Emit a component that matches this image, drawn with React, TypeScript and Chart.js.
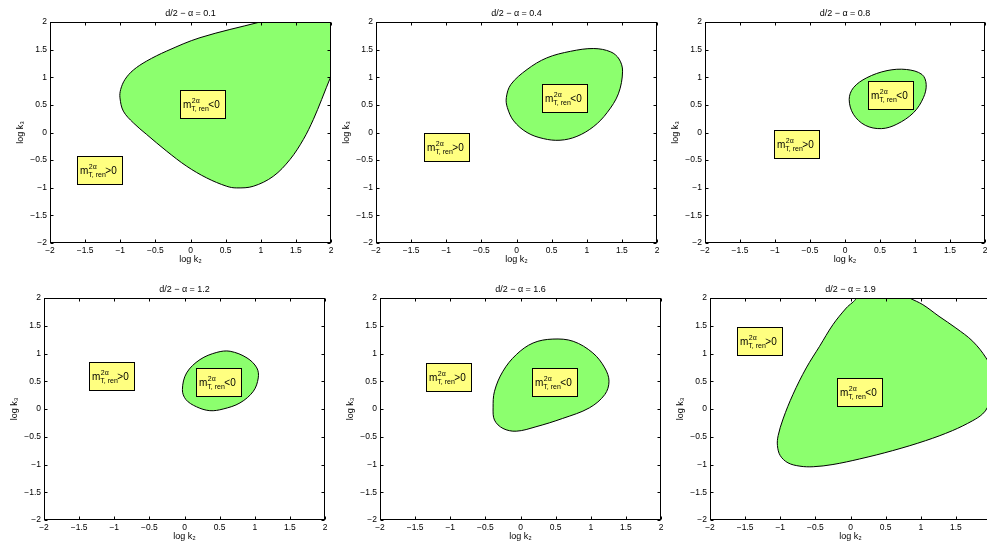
import React, { useEffect, useRef } from "react";
import { Chart, registerables } from "chart.js";

Chart.register(...registerables);

// ---------- data ----------
const panelTitles = [
  "d/2 − α = 0.1",
  "d/2 − α = 0.4",
  "d/2 − α = 0.8",
  "d/2 − α = 1.2",
  "d/2 − α = 1.6",
  "d/2 − α = 1.9",
];

const axisTicks = [-2, -1.5, -1, -0.5, 0, 0.5, 1, 1.5, 2];
const xAxisLabel = "log k₂";
const yAxisLabel = "log k₃";

// boundary of the region m < 0 for each panel (log k2, log k3), closed loops
const curve1X = [1.3, 0.99, 0.135, -0.339, -0.624, -0.814, -0.932, -0.994, -1.004, -0.956, -0.814, -0.624, -0.339, -0.055, 0.23, 0.515, 0.657, 0.894, 1.179, 1.416, 1.606, 1.749, 1.867, 2.0, 2.05, 2.4, 2.4, 1.3];
const curve1Y = [2.1, 2.0, 1.716, 1.474, 1.293, 1.13, 0.961, 0.779, 0.628, 0.387, 0.175, -0.036, -0.338, -0.61, -0.822, -0.973, -1.003, -0.973, -0.792, -0.489, -0.127, 0.236, 0.598, 1.021, 1.15, 1.2, 2.4, 2.4];

const curve2X = [-0.145, -0.08, 0.15, 0.43, 0.77, 1.1, 1.34, 1.46, 1.51, 1.45, 1.29, 1.1, 0.86, 0.62, 0.38, 0.15, -0.04, -0.13];
const curve2Y = [0.63, 0.87, 1.14, 1.35, 1.47, 1.52, 1.46, 1.33, 1.11, 0.7, 0.36, 0.11, -0.07, -0.14, -0.11, 0.0, 0.21, 0.45];

const curve3X = [0.06, 0.12, 0.31, 0.6, 0.88, 1.1, 1.16, 1.12, 0.98, 0.74, 0.52, 0.29, 0.12];
const curve3Y = [0.6, 0.81, 0.99, 1.12, 1.14, 1.05, 0.87, 0.63, 0.36, 0.15, 0.07, 0.13, 0.33];

const curve4X = [-0.03, 0.03, 0.22, 0.46, 0.65, 0.89, 1.03, 1.05, 0.98, 0.79, 0.55, 0.36, 0.17, 0.02];
const curve4Y = [0.35, 0.65, 0.89, 1.02, 1.04, 0.92, 0.74, 0.56, 0.32, 0.11, 0.0, -0.03, 0.04, 0.17];

const curve5X = [-0.39, -0.37, -0.25, -0.06, 0.18, 0.46, 0.75, 1.03, 1.2, 1.26, 1.2, 0.98, 0.6, 0.22, -0.06, -0.25, -0.37];
const curve5Y = [0.02, 0.32, 0.68, 0.98, 1.19, 1.26, 1.22, 1.01, 0.74, 0.5, 0.26, 0.02, -0.17, -0.32, -0.4, -0.35, -0.2];

const curve6X = [0.0, 0.08, -0.06, -0.25, -0.44, -0.63, -0.82, -0.96, -1.03, -1.04, -1.0, -0.89, -0.72, -0.53, -0.25, 0.13, 0.6, 1.07, 1.45, 1.74, 1.88, 1.95, 2.02, 2.03, 1.93, 1.74, 1.5, 1.26, 1.03, 0.84, 0.7, 0.4];
const curve6Y = [2.1, 2.0, 1.82, 1.52, 1.13, 0.74, 0.26, -0.18, -0.48, -0.66, -0.84, -0.97, -1.03, -1.04, -1.0, -0.9, -0.75, -0.57, -0.39, -0.21, -0.09, 0.03, 0.3, 0.65, 0.92, 1.22, 1.46, 1.67, 1.88, 2.0, 2.1, 2.2];

// ---------- styles / layout ----------
const GREEN = "rgb(140,255,110)";
const YELLOW = "rgb(255,255,128)";
const FONT = '"Liberation Sans", Arial, Helvetica, sans-serif';

type Box = { x: number; y: number; sign: string };
type Panel = {
  title: string;
  xs: number[];
  ys: number[];
  rect: { l: number; t: number; w: number; h: number };
  boxes: Box[];
};

const panels: Panel[] = [
  { title: panelTitles[0], xs: curve1X, ys: curve1Y, rect: { l: 50, t: 22, w: 281, h: 221 },
    boxes: [{ x: -0.15, y: 0.77, sign: "<0" }, { x: -1.62, y: -0.43, sign: ">0" }] },
  { title: panelTitles[1], xs: curve2X, ys: curve2Y, rect: { l: 376, t: 22, w: 281, h: 221 },
    boxes: [{ x: 0.37, y: 0.87, sign: "<0" }, { x: -1.31, y: 0.0, sign: ">0" }] },
  { title: panelTitles[2], xs: curve3X, ys: curve3Y, rect: { l: 705, t: 22, w: 280, h: 221 },
    boxes: [{ x: 0.33, y: 0.94, sign: "<0" }, { x: -1.01, y: 0.05, sign: ">0" }] },
  { title: panelTitles[3], xs: curve4X, ys: curve4Y, rect: { l: 44, t: 298, w: 281, h: 222 },
    boxes: [{ x: -1.36, y: 0.84, sign: ">0" }, { x: 0.17, y: 0.74, sign: "<0" }] },
  { title: panelTitles[4], xs: curve5X, ys: curve5Y, rect: { l: 380, t: 298, w: 281, h: 222 },
    boxes: [{ x: -1.35, y: 0.83, sign: ">0" }, { x: 0.17, y: 0.74, sign: "<0" }] },
  { title: panelTitles[5], xs: curve6X, ys: curve6Y, rect: { l: 710, t: 298, w: 281, h: 222 },
    boxes: [{ x: -1.62, y: 1.48, sign: ">0" }, { x: -0.19, y: 0.55, sign: "<0" }] },
];

const PAD_L = 50;
const PAD_T = 25;
const PAD_B = 30;
const PAD_R = 12;

function drawBox(ctx: CanvasRenderingContext2D, px: number, py: number, sign: string) {
  const mainF = `10px ${FONT}`;
  const scrF = `7px ${FONT}`;
  ctx.font = mainF;
  const wm = ctx.measureText("m").width;
  const wMain = ctx.measureText(sign).width;
  ctx.font = scrF;
  const wSup = ctx.measureText("2α").width;
  const wSub = ctx.measureText("T, ren").width;
  const padL = 2.5;
  const padR = 5;
  const W = Math.round(padL + wm + Math.max(wSup, wSub) + wMain + padR);
  const H = 28;
  const x0 = Math.round(px) + 0.5;
  const y0 = Math.round(py) + 0.5;
  ctx.save();
  ctx.fillStyle = YELLOW;
  ctx.fillRect(x0, y0, W, H);
  ctx.strokeStyle = "#000";
  ctx.lineWidth = 1;
  ctx.strokeRect(x0, y0, W, H);
  ctx.fillStyle = "#000";
  ctx.textBaseline = "alphabetic";
  ctx.textAlign = "left";
  ctx.font = mainF;
  ctx.fillText("m", x0 + padL, y0 + 17);
  ctx.font = scrF;
  ctx.fillText("2α", x0 + padL + wm + 0.5, y0 + 12);
  ctx.fillText("T, ren", x0 + padL + wm, y0 + 20.5);
  ctx.font = mainF;
  ctx.fillText(sign, x0 + padL + wm + Math.max(wSup, wSub) - 0.5, y0 + 17);
  ctx.restore();
}

// make each boundary a closed, smooth loop (as the radar controller does)
function closeLoops(chart: any) {
  chart.data.datasets.forEach((_d: any, i: number) => {
    const line = chart.getDatasetMeta(i).dataset;
    if (line && !(line._loop && line._fullLoop)) {
      line._loop = true;
      line._fullLoop = true;
      line._segments = undefined;
      line._path = undefined;
      line._pointsUpdated = false;
    }
  });
}

const framePlugin = {
  id: "frame",
  afterDatasetsUpdate(chart: any) {
    closeLoops(chart);
  },
  beforeDraw(chart: any) {
    closeLoops(chart);
  },
  afterDatasetsDraw(chart: any, _args: any, opts: any) {
    const { ctx, chartArea: a, scales } = chart;
    const sx = scales.x;
    const sy = scales.y;
    for (const b of opts.boxes || []) {
      drawBox(ctx, sx.getPixelForValue(b.x), sy.getPixelForValue(b.y), b.sign);
    }
    ctx.save();
    ctx.strokeStyle = "#000";
    ctx.lineWidth = 1;
    const L = Math.round(a.left) + 0.5;
    const R = Math.round(a.right) - 0.5;
    const T = Math.round(a.top) + 0.5;
    const B = Math.round(a.bottom) - 0.5;
    ctx.strokeRect(L, T, R - L, B - T);
    const tl = 3;
    ctx.beginPath();
    for (const v of axisTicks) {
      const x = Math.round(sx.getPixelForValue(v)) + 0.5;
      ctx.moveTo(x, B);
      ctx.lineTo(x, B - tl);
      ctx.moveTo(x, T);
      ctx.lineTo(x, T + tl);
      const y = Math.round(sy.getPixelForValue(v)) + 0.5;
      ctx.moveTo(L, y);
      ctx.lineTo(L + tl, y);
      ctx.moveTo(R, y);
      ctx.lineTo(R - tl, y);
    }
    ctx.stroke();
    ctx.restore();
  },
};

const fmt = (v: any) => String(v).replace("-", "−");

function PanelChart({ p }: { p: Panel }) {
  const ref = useRef<HTMLCanvasElement>(null);
  const cw = p.rect.w + PAD_L + PAD_R;
  const ch = p.rect.h + PAD_T + PAD_B;
  useEffect(() => {
    if (!ref.current) return;
    const tickFont = { family: FONT, size: 8.5 };
    const titleFont = { family: FONT, size: 9, weight: "normal" as const };
    const chart = new Chart(ref.current, {
      type: "scatter",
      data: {
        datasets: [
          {
            data: p.xs.map((x, i) => ({ x, y: p.ys[i] })),
            showLine: true,
            spanGaps: true,
            fill: "shape",
            backgroundColor: GREEN,
            borderColor: "#000",
            borderWidth: 1,
            pointRadius: 0,
            pointHoverRadius: 0,
            tension: 0.35,
            capBezierPoints: false,
            clip: 0,
          } as any,
        ],
      },
      options: {
        animation: false,
        responsive: false,
        events: [],
        layout: { padding: { left: 0, right: PAD_R, top: 0, bottom: 0 } },
        plugins: {
          legend: { display: false },
          tooltip: { enabled: false },
          title: {
            display: true,
            text: p.title,
            fullSize: false,
            color: "#000",
            font: titleFont,
            padding: { top: 10.8, bottom: 3.4 },
          },
          frame: { boxes: p.boxes },
        } as any,
        scales: {
          x: {
            type: "linear",
            min: -2,
            max: 2,
            afterBuildTicks: (s: any) => {
              s.ticks = axisTicks.map((v) => ({ value: v }));
            },
            afterFit: (s: any) => {
              s.height = PAD_B;
            },
            ticks: { font: tickFont, color: "#000", padding: 3, callback: fmt, maxRotation: 0, autoSkip: false },
            grid: { display: false, drawTicks: false },
            border: { display: false },
            title: { display: true, text: xAxisLabel, color: "#000", font: titleFont, padding: { top: 0, bottom: 8 } },
          },
          y: {
            type: "linear",
            min: -2,
            max: 2,
            afterBuildTicks: (s: any) => {
              s.ticks = axisTicks.map((v) => ({ value: v }));
            },
            afterFit: (s: any) => {
              s.width = PAD_L;
            },
            ticks: { font: tickFont, color: "#000", padding: 3, callback: fmt, autoSkip: false },
            grid: { display: false, drawTicks: false },
            border: { display: false },
            title: { display: true, text: yAxisLabel, color: "#000", font: titleFont, padding: { top: 15, bottom: 0 } },
          },
        },
      } as any,
      plugins: [framePlugin as any],
    });
    return () => chart.destroy();
  }, [p]);
  return (
    <canvas
      ref={ref}
      width={cw}
      height={ch}
      style={{ position: "absolute", left: p.rect.l - PAD_L, top: p.rect.t - PAD_T, width: cw, height: ch }}
    />
  );
}

export default function App() {
  return (
    <div
      style={{
        position: "fixed",
        left: 0,
        top: 0,
        width: 987,
        height: 547,
        overflow: "hidden",
        background: "#fff",
      }}
    >
      {panels.map((p, i) => (
        <PanelChart key={i} p={p} />
      ))}
    </div>
  );
}
